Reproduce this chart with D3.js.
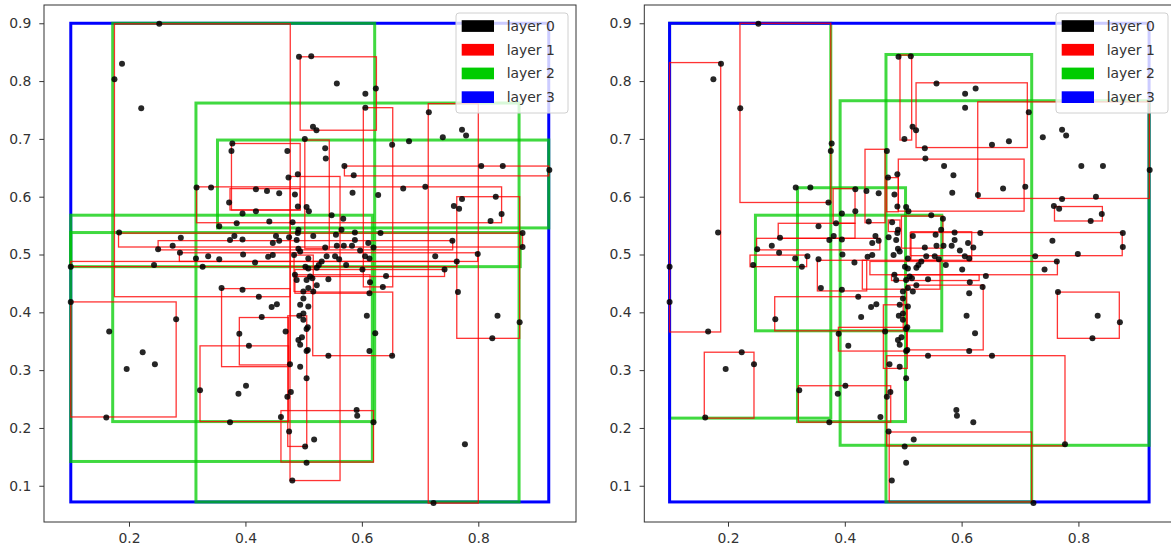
<!DOCTYPE html>
<html>
<head>
<meta charset="utf-8">
<script src="https://cdn.jsdelivr.net/npm/d3@7"></script>
<style>
  html, body { margin: 0; padding: 0; background: #fff; }
  svg { display: block; }
  text { font-family: "DejaVu Sans", sans-serif; }
</style>
</head>
<body>
<svg id="chart" width="1171" height="551"></svg>
<script>
// Layer 0: the indexed points (shared by both trees)
const pointX = [
  0.252,0.188,0.175,0.221,0.3775,0.376,0.472,0.492,0.513,
  0.557,0.606,0.624,0.606,0.715,0.516,0.522,0.502,0.739,0.772,0.779,
  0.652,0.681,0.537,0.538,0.570,0.586,0.805,0.842,0.922,0.474,0.490,
  0.584,0.628,0.671,0.709,0.758,0.767,0.772,0.830,0.840,0.821,
  0.316,0.341,0.418,0.437,0.458,0.485,0.372,0.418,0.490,0.395,0.385,0.355,0.441,0.481,
  0.505,0.509,0.548,0.568,
  0.183,0.289,0.381,0.3735,0.395,0.4525,0.458,0.475,0.490,
  0.275,0.250,0.2875,0.447,
  0.315,0.336,0.355,0.396,0.439,0.447,0.4165,0.3265,0.243,0.100,0.4835,0.485,
  0.876,0.876,0.7555,0.799,0.726,0.763,0.742,0.6415,
  0.491,0.565,0.488,0.5165,0.5555,0.588,0.588,0.611,0.632,
  0.491,0.494,0.537,0.557,0.569,0.583,0.597,0.6055,0.620,
  0.508,0.5395,0.554,0.561,0.531,0.573,0.526,0.613,
  0.508,0.5225,0.601,0.503,
  0.488,0.505,0.515,0.5425,0.5225,0.508,0.5165,0.4995,0.614,0.613,0.636,
  0.359,0.395,0.423,0.4995,0.445,0.454,0.508,0.428,0.4925,0.4995,0.6085,
  0.100,0.166,0.281,0.196,0.2235,0.2445,0.161,0.322,0.3735,
  0.3895,0.406,0.388,0.401,0.469,0.4765,0.472,0.478,0.461,0.475,0.4805,
  0.491,0.494,0.497,0.505,0.4995,0.505,0.494,0.505,0.507,0.507,
  0.5025,0.518,0.505,
  0.613,0.5425,0.652,0.623,0.591,0.592,0.620,
  0.765,0.833,0.871,0.824,0.777,0.723,
  0.511,0.494
];
const pointY = [
  0.899,0.830,0.803,0.753,0.692,0.679,0.679,0.842,0.843,
  0.796,0.778,0.787,0.754,0.746,0.721,0.715,0.700,0.703,0.716,0.706,
  0.690,0.696,0.684,0.666,0.653,0.637,0.653,0.653,0.646,0.633,0.639,
  0.607,0.603,0.614,0.617,0.584,0.579,0.596,0.600,0.570,0.558,
  0.616,0.616,0.613,0.610,0.606,0.604,0.590,0.575,0.583,0.571,0.554,0.549,0.557,0.556,
  0.582,0.575,0.568,0.562,
  0.538,0.529,0.532,0.525,0.526,0.532,0.524,0.530,0.537,
  0.515,0.509,0.503,0.520,
  0.493,0.497,0.492,0.500,0.496,0.499,0.486,0.479,0.482,0.479,0.499,0.465,
  0.537,0.513,0.524,0.501,0.497,0.488,0.474,0.463,
  0.543,0.543,0.525,0.532,0.534,0.538,0.525,0.520,0.537,
  0.510,0.505,0.512,0.515,0.515,0.515,0.507,0.497,0.512,
  0.493,0.497,0.497,0.492,0.488,0.482,0.482,0.493,
  0.476,0.477,0.474,0.479,
  0.456,0.456,0.459,0.457,0.447,0.442,0.436,0.436,0.452,0.433,0.444,
  0.442,0.439,0.427,0.424,0.409,0.414,0.410,0.392,0.394,0.398,0.394,
  0.418,0.367,0.388,0.302,0.331,0.310,0.218,0.265,0.210,
  0.363,0.342,0.259,0.273,0.367,0.310,0.254,0.262,0.219,0.194,0.109,
  0.352,0.344,0.357,0.371,0.387,0.333,0.306,0.286,0.374,0.335,
  0.168,0.180,0.140,
  0.333,0.325,0.325,0.364,0.231,0.221,0.210,
  0.435,0.394,0.383,0.355,0.172,0.070,
  0.462,0.413
];

// Layer 3: root bounding box (same for both trees) [x0, x1, y0, y1]
const layer3Box = [[0.100, 0.921, 0.072, 0.900]];

// Left tree: layer 2 and layer 1 bounding boxes [x0, x1, y0, y1]
const leftLayer2 = [
  [0.172, 0.622, 0.211, 0.900],
  [0.100, 0.618, 0.142, 0.568],
  [0.100, 0.872, 0.479, 0.538],
  [0.315, 0.870, 0.072, 0.762],
  [0.352, 0.921, 0.546, 0.698]
];
const leftLayer1 = [
  [0.175, 0.477, 0.427, 0.899],
  [0.316, 0.840, 0.555, 0.617],
  [0.376, 0.494, 0.577, 0.692],
  [0.3735, 0.494, 0.577, 0.614],
  [0.494, 0.625, 0.715, 0.842],
  [0.6025, 0.653, 0.444, 0.754],
  [0.714, 0.800, 0.070, 0.761],
  [0.570, 0.921, 0.636, 0.653],
  [0.763, 0.871, 0.355, 0.600],
  [0.502, 0.544, 0.510, 0.698],
  [0.100, 0.281, 0.219, 0.418],
  [0.359, 0.477, 0.306, 0.441],
  [0.3895, 0.474, 0.309, 0.391],
  [0.322, 0.474, 0.211, 0.342],
  [0.461, 0.620, 0.141, 0.230],
  [0.4766, 0.5625, 0.109, 0.635],
  [0.4727, 0.5053, 0.168, 0.394],
  [0.5156, 0.653, 0.325, 0.435],
  [0.182, 0.876, 0.513, 0.537],
  [0.250, 0.756, 0.508, 0.524],
  [0.2865, 0.799, 0.488, 0.503],
  [0.100, 0.763, 0.479, 0.488],
  [0.485, 0.742, 0.462, 0.474],
  [0.485, 0.614, 0.433, 0.465],
  [0.4835, 0.5165, 0.436, 0.499]
];

// Right tree: layer 2 and layer 1 bounding boxes [x0, x1, y0, y1]
// (the first layer-2 box sits under the root outline)
const rightLayer2Under = [
  [0.100, 0.376, 0.217, 0.900]
];
const rightLayer2 = [
  [0.247, 0.566, 0.368, 0.568],
  [0.319, 0.504, 0.211, 0.6155],
  [0.392, 0.921, 0.170, 0.766],
  [0.4705, 0.720, 0.072, 0.846]
];
const rightLayer1 = [
  [0.100, 0.1875, 0.366, 0.832],
  [0.2205, 0.376, 0.590, 0.900],
  [0.4945, 0.5145, 0.698, 0.845],
  [0.522, 0.7125, 0.685, 0.797],
  [0.6276, 0.9215, 0.597, 0.764],
  [0.4916, 0.707, 0.575, 0.665],
  [0.759, 0.841, 0.558, 0.583],
  [0.512, 0.875, 0.498, 0.538],
  [0.497, 0.568, 0.511, 0.5665],
  [0.764, 0.870, 0.355, 0.435],
  [0.4717, 0.777, 0.169, 0.325],
  [0.476, 0.720, 0.072, 0.193],
  [0.506, 0.637, 0.335, 0.447],
  [0.389, 0.506, 0.333, 0.374],
  [0.3204, 0.4786, 0.210, 0.273],
  [0.1594, 0.2445, 0.217, 0.331],
  [0.280, 0.500, 0.368, 0.427],
  [0.353, 0.4375, 0.437, 0.490],
  [0.2377, 0.3347, 0.479, 0.499],
  [0.5134, 0.6173, 0.490, 0.5394],
  [0.4745, 0.4945, 0.5397, 0.5597],
  [0.4346, 0.469, 0.555, 0.682],
  [0.380, 0.4175, 0.554, 0.614],
  [0.286, 0.4175, 0.528, 0.554],
  [0.249, 0.460, 0.508, 0.528],
  [0.4717, 0.4916, 0.574, 0.633],
  [0.430, 0.563, 0.440, 0.490],
  [0.480, 0.630, 0.455, 0.465],
  [0.443, 0.764, 0.465, 0.488],
  [0.466, 0.507, 0.303, 0.413]
];

const xTicks = [0.2, 0.4, 0.6, 0.8];
const yTicks = [0.1, 0.2, 0.3, 0.4, 0.5, 0.6, 0.7, 0.8, 0.9];
const legendLabels = ["layer 0", "layer 1", "layer 2", "layer 3"];
const legendColors = ["#000000", "#ff0000", "#00cc00", "#0000ff"];

const svg = d3.select("#chart");

function drawPanel(opt) {
  const x = d3.scaleLinear().domain(opt.xDomain).range(opt.xRange);
  const y = d3.scaleLinear().domain(opt.yDomain).range(opt.yRange);
  const g = svg.append("g");

  const clipId = "clip" + opt.id;
  svg.append("defs").append("clipPath").attr("id", clipId)
    .append("rect")
    .attr("x", opt.xRange[0]).attr("y", opt.yRange[1])
    .attr("width", opt.xRange[1] - opt.xRange[0])
    .attr("height", opt.yRange[0] - opt.yRange[1]);

  const plot = g.append("g").attr("clip-path", `url(#${clipId})`);

  function boxes(data, color, width, opacity) {
    plot.append("g").selectAll("rect").data(data).join("rect")
      .attr("x", d => x(d[0]))
      .attr("y", d => y(d[3]))
      .attr("width", d => x(d[1]) - x(d[0]))
      .attr("height", d => y(d[2]) - y(d[3]))
      .attr("fill", "none")
      .attr("stroke", color)
      .attr("stroke-width", width)
      .attr("stroke-opacity", opacity);
  }

  const green = ["#00cc00", 3, 0.75];
  if (opt.layer2Under) boxes(opt.layer2Under, ...green);
  boxes(layer3Box, "#0000ff", 3, 1);
  boxes(opt.layer2, ...green);
  boxes(opt.layer1, "#ff0000", 1.3, 0.8);

  plot.append("g").selectAll("circle").data(pointX.map((v, i) => [v, pointY[i]])).join("circle")
    .attr("cx", d => x(d[0]))
    .attr("cy", d => y(d[1]))
    .attr("r", 3)
    .attr("fill", "#000")
    .attr("fill-opacity", 0.85);

  // axes
  const xAxis = d3.axisBottom(x).tickValues(xTicks).tickFormat(d3.format(".1f")).tickSize(4.7).tickPadding(6);
  const yAxis = d3.axisLeft(y).tickValues(yTicks).tickFormat(d3.format(".1f")).tickSize(4.7).tickPadding(8);
  const ax = g.append("g").attr("transform", `translate(0,${opt.yRange[0]})`).call(xAxis);
  const ay = g.append("g").attr("transform", `translate(${opt.xRange[0]},0)`).call(yAxis);
  [ax, ay].forEach(a => {
    a.select(".domain").remove();
    a.selectAll(".tick line").attr("stroke", "#333").attr("stroke-width", 1);
    a.selectAll(".tick text").attr("fill", "#333").style("font-size", "13.9px");
  });

  // frame
  g.append("rect")
    .attr("x", opt.xRange[0]).attr("y", opt.yRange[1])
    .attr("width", opt.xRange[1] - opt.xRange[0])
    .attr("height", opt.yRange[0] - opt.yRange[1])
    .attr("fill", "none").attr("stroke", "#333").attr("stroke-width", 1);

  // legend
  const lg = g.append("g").attr("transform", `translate(${opt.legendX},${opt.legendY})`);
  lg.append("rect")
    .attr("width", 112).attr("height", 100).attr("rx", 3)
    .attr("fill", "#fff").attr("fill-opacity", 0.8)
    .attr("stroke", "#d0d0d0").attr("stroke-width", 1);
  const rows = lg.selectAll("g.row").data(legendLabels).join("g")
    .attr("class", "row")
    .attr("transform", (d, i) => `translate(0,${13 + i * 23.7})`);
  rows.append("rect")
    .attr("x", 5.7).attr("y", -5.8).attr("width", 32.3).attr("height", 11.7)
    .attr("fill", (d, i) => legendColors[i]);
  rows.append("text")
    .attr("x", 50.7).attr("y", 0).attr("dy", "0.35em")
    .attr("fill", "#333").style("font-size", "13.9px")
    .text(d => d);
}

drawPanel({
  id: "L",
  xDomain: [0.054, 0.9678], xRange: [44, 576],
  yDomain: [0.0373, 0.9316], yRange: [522, 5],
  layer2: leftLayer2, layer1: leftLayer1,
  legendX: 456, legendY: 13
});
drawPanel({
  id: "R",
  xDomain: [0.0567, 0.9705], xRange: [644.3, 1178],
  yDomain: [0.0373, 0.9316], yRange: [522, 5],
  layer2Under: rightLayer2Under,
  layer2: rightLayer2, layer1: rightLayer1,
  legendX: 1056, legendY: 13
});
</script>
</body>
</html>
